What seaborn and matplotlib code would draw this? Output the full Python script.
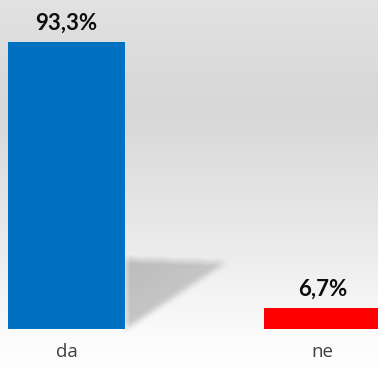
import numpy as np
import pandas as pd
import matplotlib
matplotlib.use("Agg")
import matplotlib.pyplot as plt
import seaborn as sns

categories = ["da", "ne"]
values = [93.3, 6.7]
colors = ["#0070C0", "#FF0000"]

W, H, DPI = 378, 368, 100
sns.set_theme(style="white")
plt.rcParams["font.family"] = ["Open Sans", "DejaVu Sans"]

fig = plt.figure(figsize=(W / DPI, H / DPI), dpi=DPI)

# background: grey band fading to white towards the floor
bg = fig.add_axes([0, 0, 1, 1], zorder=0)
bg.set_axis_off()
rows = np.arange(H, dtype=float)
grey = np.interp(rows, [0, 110, 250, 320, 345, H], [0.885, 0.845, 0.925, 0.975, 0.99, 0.995])
img = np.repeat(grey[:, None], W, axis=1)

ax = fig.add_axes([0, 39 / H, 1, 329 / H], zorder=1)
ax.patch.set_alpha(0)
df = pd.DataFrame({"odgovor": categories, "postotak": values})
sns.barplot(data=df, x="odgovor", y="postotak", hue="odgovor",
            palette=colors, width=0.457, saturation=1, legend=False,
            linewidth=0, ax=ax)
ax.set_xlim(-0.26, 1.217)
ax.set_ylim(0, 106.96)
ax.set_xlabel("")
ax.set_ylabel("")
ax.set_yticks([])
sns.despine(ax=ax, left=True, bottom=True)
ax.tick_params(axis="x", length=0, pad=10, labelsize=13.5, labelcolor="#404040")

for cont in ax.containers:
    ax.bar_label(cont, labels=[f"{v:.1f}%".replace(".", ",") for v in cont.datavalues],
                 padding=6, fontsize=16, fontweight="bold", color="#0d0d0d",
                 family=["Lato", "DejaVu Sans"])

# floor shadow cast by the tall bar
fig.canvas.draw()
bb = ax.patches[0].get_window_extent()
x0 = bb.x1
yb = H - bb.y0           # bar bottom, image rows from top
ht = (bb.y1 - bb.y0) * 0.245
length = (bb.x1 - bb.x0) * 0.86
yy, xx = np.mgrid[0:H, 0:W].astype(float)
t = (xx - x0) / length
top = yb - ht
inside = (t >= 0) & (t <= 1) & (yy >= top + 3 * t) & (yy <= yb - t * (ht - 3))
dark = np.where(inside, 0.21 * (1 - 0.2 * t), 0.0)
k = 4
pad = np.pad(dark, k, mode="edge")
cs = pad.cumsum(0).cumsum(1)
cs = np.pad(cs, ((1, 0), (1, 0)))
n = 2 * k + 1
blur = (cs[n:, n:] - cs[:-n, n:] - cs[n:, :-n] + cs[:-n, :-n]) / (n * n)
blur = blur[:H, :W]
blur[:, :int(x0)] = 0
img = img * (1 - blur)
bg.imshow(np.dstack([img] * 3), extent=(0, W, H, 0), aspect="auto",
          interpolation="bilinear")
bg.set_xlim(0, W)
bg.set_ylim(H, 0)

fig.savefig("out.png", dpi=DPI)
